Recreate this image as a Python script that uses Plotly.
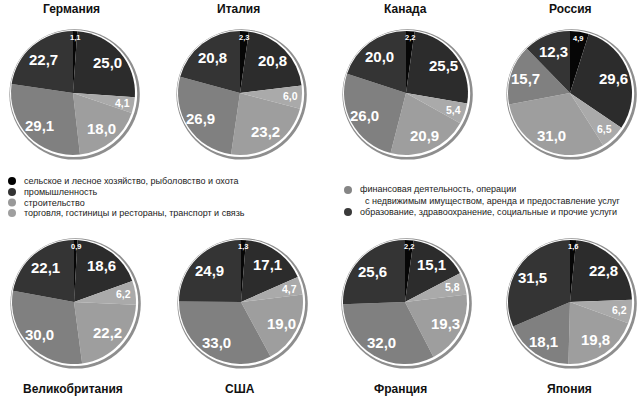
import plotly.graph_objects as go
import math

W, H = 641, 399

categories = [
    "сельское и лесное хозяйство, рыболовство и охота",
    "промышленность",
    "строительство",
    "торговля, гостиницы и рестораны, транспорт и связь",
    "финансовая деятельность, операции<br>  с недвижимым имуществом, аренда и предоставление услуг",
    "образование, здравоохранение, социальные и прочие услуги",
]
slice_colors = ["#060606", "#2c2c2c", "#aaaaaa", "#9e9e9e", "#808080", "#343434"]
legend_colors = ["#000000", "#333333", "#999999", "#9f9f9f", "#858585", "#3a3a3a"]

countries = ["Германия", "Италия", "Канада", "Россия",
             "Великобритания", "США", "Франция", "Япония"]

germany = [1.1, 25.0, 4.1, 18.0, 29.1, 22.7]
italy = [2.3, 20.8, 6.0, 23.2, 26.9, 20.8]
canada = [2.2, 25.5, 5.4, 20.9, 26.0, 20.0]
russia = [4.9, 29.6, 6.5, 31.0, 15.7, 12.3]
uk = [0.9, 18.6, 6.2, 22.2, 30.0, 22.1]
usa = [1.3, 17.1, 4.7, 19.0, 33.0, 24.9]
france = [2.2, 15.1, 5.8, 19.3, 32.0, 25.6]
japan = [1.6, 22.8, 6.2, 19.8, 18.1, 31.5]
values = [germany, italy, canada, russia, uk, usa, france, japan]

# layout (pixels)
centers = [(73, 93), (240, 93), (406, 93), (570, 93),
           (74, 302), (241, 302), (405, 302), (570, 302)]
title_pos = [(71, 9), (238, 9), (405, 9), (570, 9),
             (73, 389), (240, 389), (400, 389), (569, 389)]
R = 62

def px(x):
    return x / W

def py(y):
    return 1 - y / H

fig = go.Figure()
shapes = []
annotations = []

label_size = [7.5, 15, 10.5, 15, 15, 15]
label_rad = [0.89, 0.74, 0.81, 0.74, 0.76, 0.72]

for i, (name, vals) in enumerate(zip(countries, values)):
    cx, cy = centers[i]
    fig.add_trace(go.Pie(
        values=vals,
        labels=categories,
        sort=False,
        direction="clockwise",
        rotation=0,
        marker=dict(colors=slice_colors, line=dict(width=0)),
        textinfo="none",
        hoverinfo="label+value",
        showlegend=False,
        domain=dict(x=[px(cx - R), px(cx + R)], y=[py(cy + R), py(cy - R)]),
    ))
    # bevel ring
    for off, rr, col in [((1.6, 1.4), 65.2, "#8e8e8e"), ((0.6, 0.5), 63.6, "#ffffff")]:
        ox, oy = cx + off[0], cy + off[1]
        shapes.append(dict(type="circle", xref="paper", yref="paper", layer="below",
                           x0=px(ox - rr), x1=px(ox + rr), y0=py(oy + rr), y1=py(oy - rr),
                           fillcolor=col, line=dict(width=0)))
    # value labels
    total = sum(vals)
    cum = 0
    for k, v in enumerate(vals):
        mid = (cum + v / 2) / total
        cum += v
        th = 2 * math.pi * mid
        rr = R * label_rad[k]
        lx = cx + rr * math.sin(th)
        ly = cy - rr * math.cos(th)
        annotations.append(dict(
            x=px(lx), y=py(ly), xref="paper", yref="paper", showarrow=False,
            text=f"{v:.1f}".replace(".", ","),
            font=dict(family="Liberation Sans, Arial, sans-serif", size=label_size[k],
                      color="white", weight="bold"),
            xanchor="center", yanchor="middle"))
    tx, ty = title_pos[i]
    annotations.append(dict(
        x=px(tx), y=py(ty), xref="paper", yref="paper", showarrow=False,
        text=f"<b>{name}</b>",
        font=dict(family="Liberation Sans, Arial, sans-serif", size=12, color="#111111"),
        xanchor="center", yanchor="middle"))

# legend
leg_left = [(12, 181), (12, 192), (12, 202.5), (12, 213)]
leg_right = [(348, 190), (348, 212)]
leg_pos = leg_left + leg_right
for k, (lx, ly) in enumerate(leg_pos):
    shapes.append(dict(type="circle", xref="paper", yref="paper",
                       x0=px(lx - 4), x1=px(lx + 4), y0=py(ly + 4), y1=py(ly - 4),
                       fillcolor=legend_colors[k], line=dict(width=0)))
    text = categories[k]
    annotations.append(dict(
        x=px(lx + 10), y=py(ly + (5.4 if k == 4 else 0)), xref="paper", yref="paper",
        showarrow=False, text=text, align="left",
        font=dict(family="Liberation Sans, Arial, sans-serif", size=9, color="#1a1a1a"),
        xanchor="left", yanchor="middle"))

fig.update_layout(
    width=W, height=H,
    margin=dict(l=0, r=0, t=0, b=0),
    paper_bgcolor="white", plot_bgcolor="white",
    shapes=shapes, annotations=annotations,
)

fig.write_html("out.html",
               config={"displayModeBar": False},
               post_script="document.body.style.margin='0';document.body.style.overflow='hidden';")
